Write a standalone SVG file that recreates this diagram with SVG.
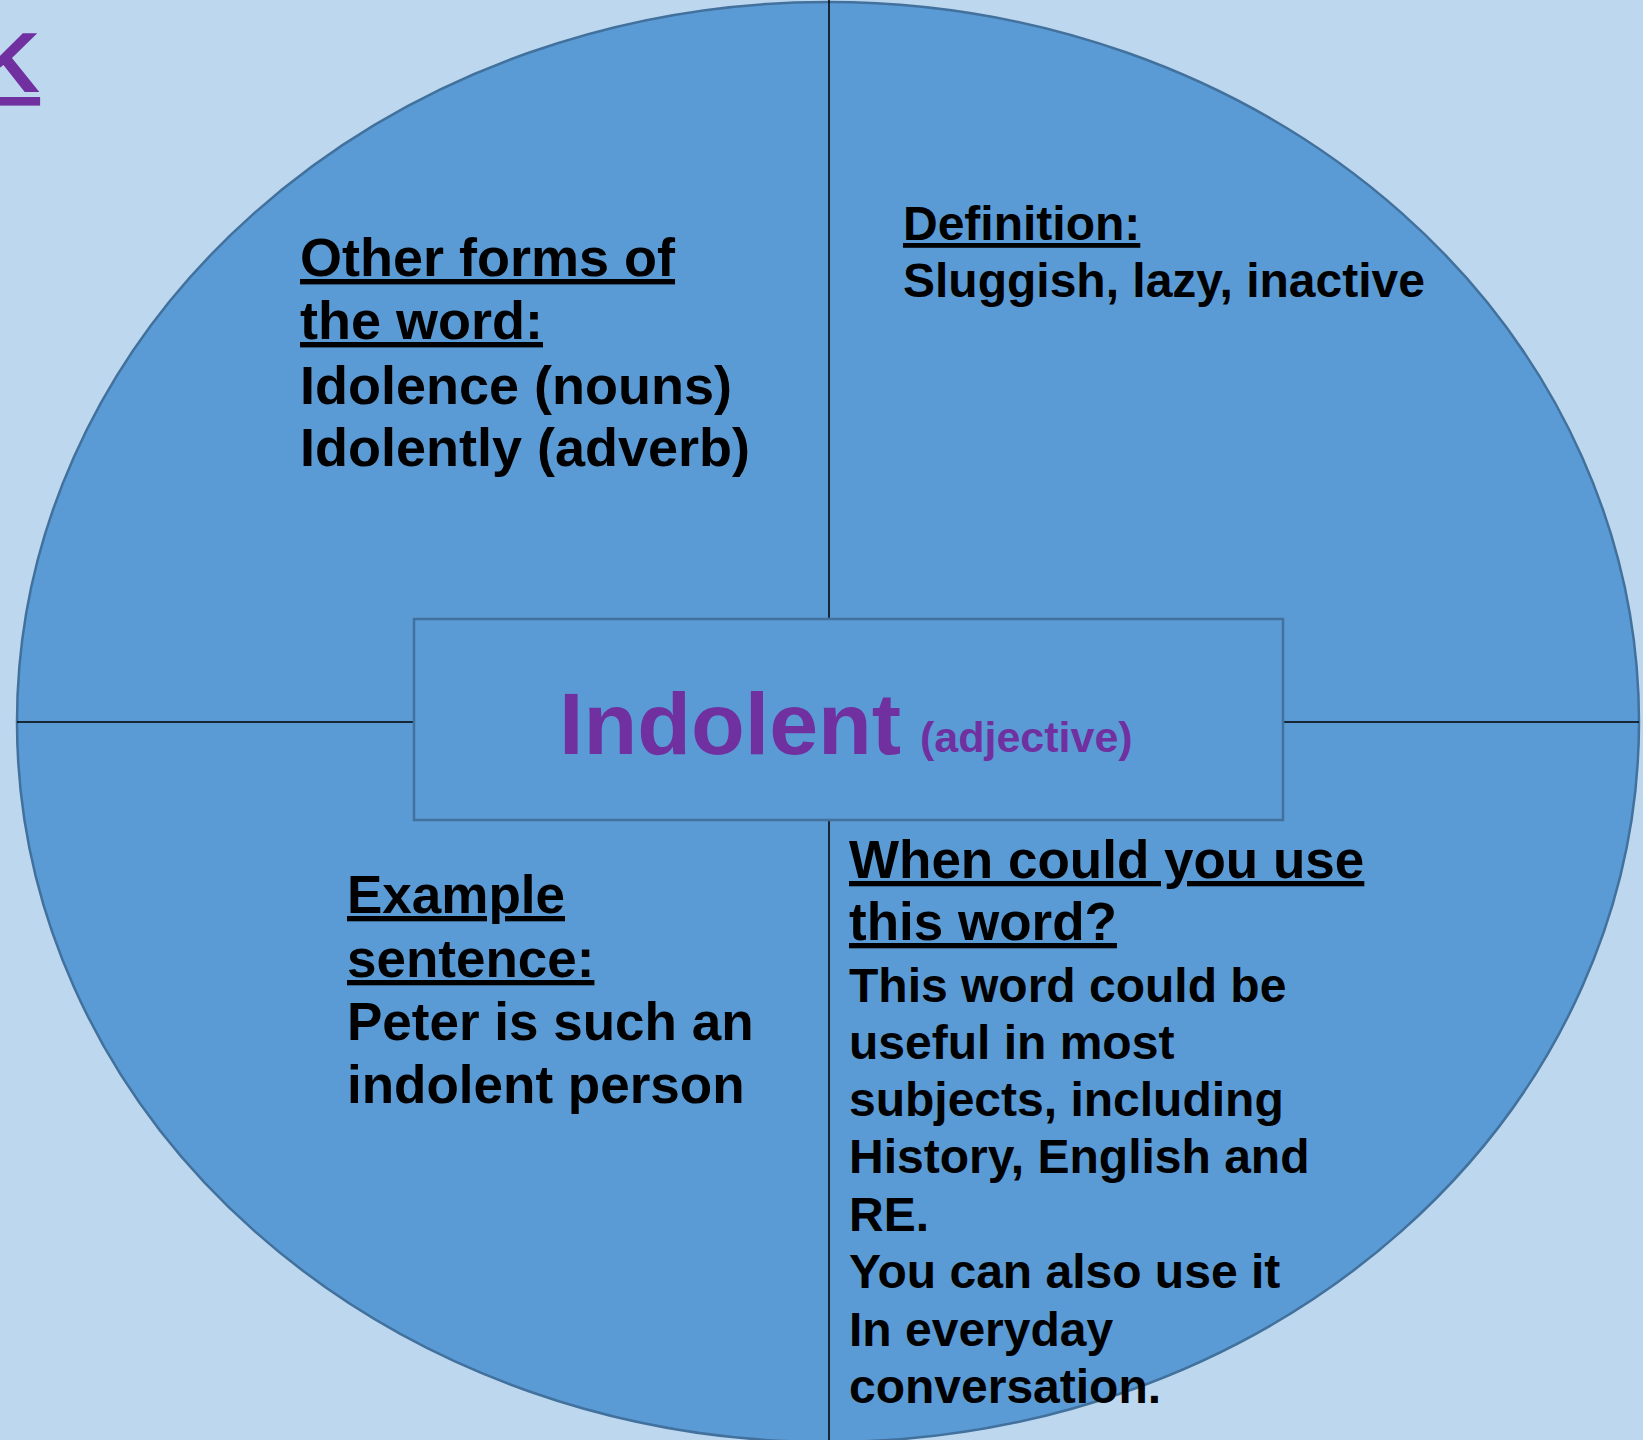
<svg xmlns="http://www.w3.org/2000/svg" width="1643" height="1440" viewBox="0 0 1643 1440">
<style>
.t{font-family:"Liberation Sans",Arial,sans-serif;font-weight:bold;fill:#000}
.u{text-decoration:underline}
.p{fill:#7030A0}
.div{stroke:#000;stroke-width:1.5;fill:none}
</style>
<rect x="0" y="0" width="1643" height="1440" fill="#BDD7EE"/>
<g id="link">
<text class="t p u" x="-22" y="92" font-size="86">K</text>
</g>
<g id="circle">
<ellipse cx="828" cy="722" rx="811" ry="720" fill="#5B9BD5" stroke="#41719C" stroke-width="2.5"/>
</g>
<g id="connectors">
<line class="div" x1="17" y1="722" x2="413" y2="722"/>
<line class="div" x1="1283" y1="722" x2="1639" y2="722"/>
<line class="div" x1="829" y1="0" x2="829" y2="619"/>
<line class="div" x1="829" y1="820" x2="829" y2="1440"/>
</g>
<g id="center">
<rect x="414" y="619" width="869" height="201" fill="#5B9BD5" stroke="#41719C" stroke-width="2.5"/>
<text class="t p" x="559" y="754" font-size="88">Indolent</text>
<text class="t p" x="920" y="752" font-size="43">(adjective)</text>
</g>
<g id="forms">
<text class="t u" x="300" y="276" font-size="54">Other forms of</text>
<text class="t u" x="300" y="339" font-size="54">the word:</text>
<text class="t" x="300" y="404" font-size="54">Idolence (nouns)</text>
<text class="t" x="300" y="466" font-size="54">Idolently (adverb)</text>
</g>
<g id="definition">
<text class="t u" x="903" y="240" font-size="48">Definition:</text>
<text class="t" x="903" y="297" font-size="48">Sluggish, lazy, inactive</text>
</g>
<g id="example">
<text class="t u" x="347" y="913" font-size="53">Example</text>
<text class="t u" x="347" y="977" font-size="53">sentence:</text>
<text class="t" x="347" y="1040" font-size="53">Peter is such an</text>
<text class="t" x="347" y="1103" font-size="53">indolent person</text>
</g>
<g id="usage">
<text class="t u" x="849" y="878" font-size="53">When could you use</text>
<text class="t u" x="849" y="940" font-size="53">this word?</text>
<text class="t" x="849" y="1002" font-size="48">This word could be</text>
<text class="t" x="849" y="1059" font-size="48">useful in most</text>
<text class="t" x="849" y="1116" font-size="48">subjects, including</text>
<text class="t" x="849" y="1173" font-size="48">History, English and</text>
<text class="t" x="849" y="1231" font-size="48">RE.</text>
<text class="t" x="849" y="1288" font-size="48">You can also use it</text>
<text class="t" x="849" y="1346" font-size="48">In everyday</text>
<text class="t" x="849" y="1403" font-size="48">conversation.</text>
</g>
</svg>
